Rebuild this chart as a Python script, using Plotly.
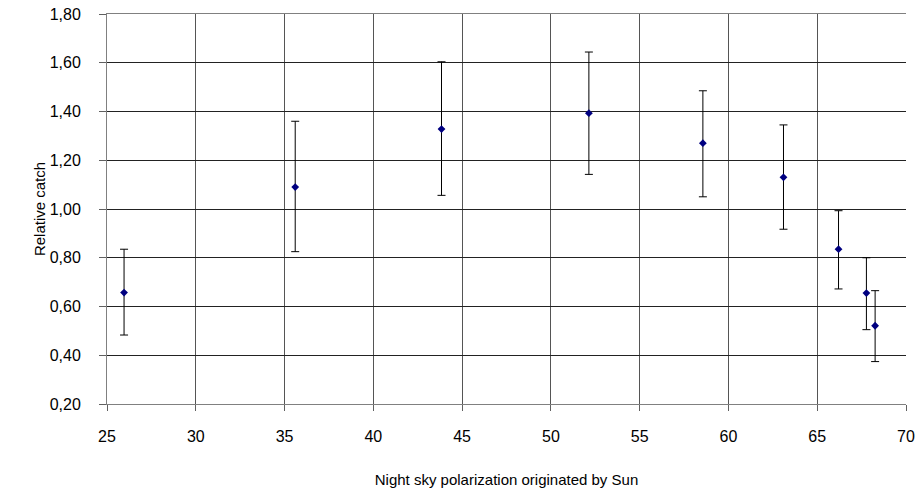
import plotly.graph_objects as go

polarization = [25.96, 35.6, 43.84, 52.14, 58.56, 63.1, 66.2, 67.77, 68.26]
relative_catch = [0.657, 1.09, 1.328, 1.393, 1.27, 1.13, 0.835, 0.655, 0.521]
err_upper = [0.835, 1.36, 1.604, 1.644, 1.485, 1.345, 0.993, 0.80, 0.665]
err_lower = [0.483, 0.825, 1.056, 1.142, 1.05, 0.917, 0.672, 0.505, 0.374]

plus = [u - v for u, v in zip(err_upper, relative_catch)]
minus = [v - l for v, l in zip(relative_catch, err_lower)]

x_ticks = [25, 30, 35, 40, 45, 50, 55, 60, 65, 70]
y_ticks = [0.2, 0.4, 0.6, 0.8, 1.0, 1.2, 1.4, 1.6, 1.8]

fig = go.Figure()
fig.add_trace(go.Scatter(
    x=polarization, y=relative_catch, mode="markers",
    marker=dict(symbol="diamond", size=6, color="#000080"),
    error_y=dict(type="data", symmetric=False, array=plus, arrayminus=minus,
                 color="black", thickness=1, width=4),
    showlegend=False,
))

font = "Liberation Sans, Arial, sans-serif"
fig.update_layout(
    width=920, height=493,
    margin=dict(l=107, r=14, t=14, b=89),
    paper_bgcolor="white", plot_bgcolor="white",
    separators=", ",
    font=dict(family=font, color="black"),
    xaxis=dict(
        range=[25, 70], tickvals=x_ticks, showgrid=True, gridcolor="#555555", gridwidth=1,
        showline=True, linecolor="#808080", linewidth=1, mirror=True,
        ticks="outside", ticklen=6, tickcolor="#606060",
        tickfont=dict(size=16), ticklabelstandoff=12, automargin=False,
        ticklabeloverflow="allow",
        title=dict(text="Night sky polarization originated by Sun", font=dict(size=15), standoff=30),
        zeroline=False,
    ),
    yaxis=dict(
        range=[0.2, 1.8], tickvals=y_ticks, tickformat=".2f",
        showgrid=True, gridcolor="#222222", gridwidth=1,
        showline=True, linecolor="#808080", linewidth=1,
        ticks="outside", ticklen=7, tickcolor="#606060",
        tickfont=dict(size=16), ticklabelstandoff=15, automargin=False,
        ticklabeloverflow="allow",
        title=dict(text="Relative catch", font=dict(size=15), standoff=0),
        zeroline=False,
    ),
)

fig.write_html(
    "out.html",
    config={"displayModeBar": False},
    post_script="document.body.style.margin='0';document.body.style.padding='0';",
)
